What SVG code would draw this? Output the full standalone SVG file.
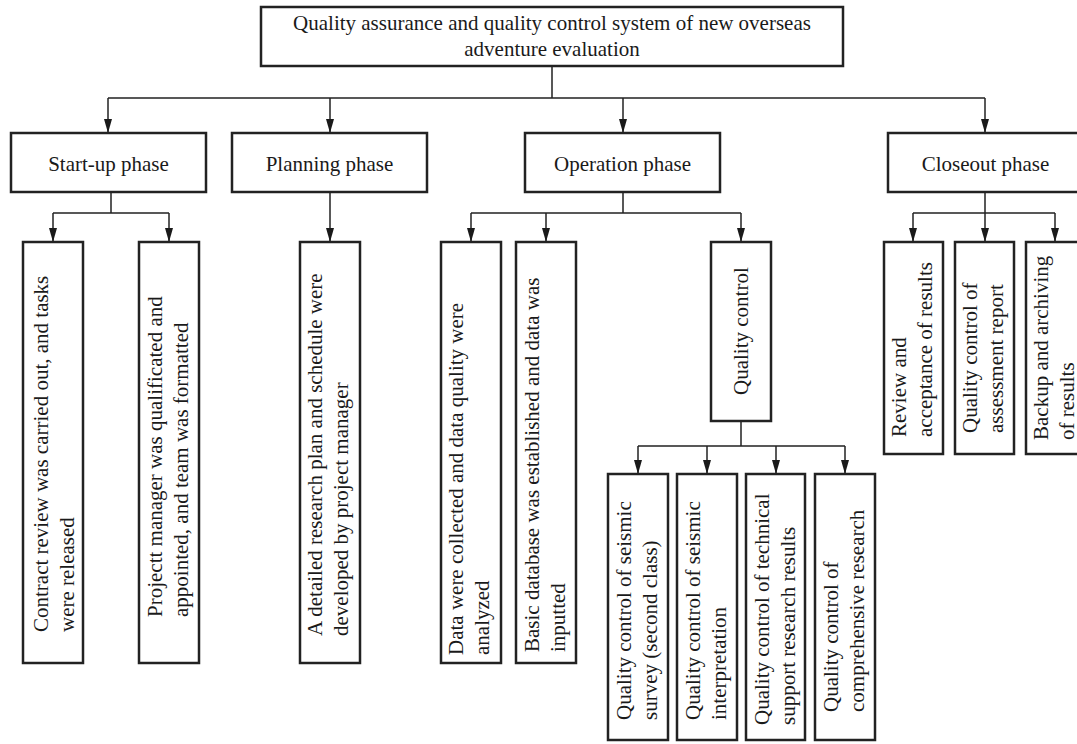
<svg xmlns="http://www.w3.org/2000/svg" width="1077" height="744" viewBox="0 0 1077 744">
<style>
.box{fill:#fff;stroke:#222;stroke-width:2.5}
.t{font-family:"Liberation Serif","Times New Roman",serif;font-size:21px;fill:#1a1a1a}
.c{text-anchor:middle}
.ln{fill:none;stroke:#222;stroke-width:1.5}
</style>
<defs>
<marker id="ah" viewBox="0 0 14 8" refX="14" refY="4" markerWidth="14" markerHeight="8" markerUnits="userSpaceOnUse" orient="auto">
<path d="M0,0 L14,4 L0,8 z" fill="#1a1a1a"/>
</marker>
</defs>
<rect width="1077" height="744" fill="#fff"/>
<g id="connectors">
<path class="ln" d="M552,66 V98 M108,98 H985"/>
<path class="ln" d="M108,98 V133" marker-end="url(#ah)"/>
<path class="ln" d="M330,98 V133" marker-end="url(#ah)"/>
<path class="ln" d="M623,98 V133" marker-end="url(#ah)"/>
<path class="ln" d="M985,98 V133" marker-end="url(#ah)"/>
<path class="ln" d="M111,192 V213 M53,213 H169"/>
<path class="ln" d="M53,213 V242" marker-end="url(#ah)"/>
<path class="ln" d="M169,213 V242" marker-end="url(#ah)"/>
<path class="ln" d="M330,192 V242" marker-end="url(#ah)"/>
<path class="ln" d="M623,192 V213 M471,213 H741"/>
<path class="ln" d="M471,213 V242" marker-end="url(#ah)"/>
<path class="ln" d="M546,213 V242" marker-end="url(#ah)"/>
<path class="ln" d="M741,213 V242" marker-end="url(#ah)"/>
<path class="ln" d="M741,421 V446 M638,446 H845"/>
<path class="ln" d="M638,446 V474" marker-end="url(#ah)"/>
<path class="ln" d="M707,446 V474" marker-end="url(#ah)"/>
<path class="ln" d="M776,446 V474" marker-end="url(#ah)"/>
<path class="ln" d="M845,446 V474" marker-end="url(#ah)"/>
<path class="ln" d="M985,192 V213 M913,213 H1055"/>
<path class="ln" d="M913,213 V242" marker-end="url(#ah)"/>
<path class="ln" d="M985,213 V242" marker-end="url(#ah)"/>
<path class="ln" d="M1055,213 V242" marker-end="url(#ah)"/>
</g>
<g id="root">
<rect class="box" x="261" y="7" width="582" height="59"/>
<text class="t c" x="552" y="30">Quality assurance and quality control system of new overseas</text>
<text class="t c" x="552" y="56">adventure evaluation</text>
</g>
<g id="startup">
<rect class="box" x="11" y="133" width="195" height="59"/>
<text class="t c" x="108.5" y="171">Start-up phase</text>
</g>
<g id="planning">
<rect class="box" x="232" y="133" width="195" height="59"/>
<text class="t c" x="329.5" y="171">Planning phase</text>
</g>
<g id="operation">
<rect class="box" x="525" y="133" width="195" height="59"/>
<text class="t c" x="622.5" y="171">Operation phase</text>
</g>
<g id="closeout">
<rect class="box" x="888" y="133" width="195" height="59"/>
<text class="t c" x="985.5" y="171">Closeout phase</text>
</g>
<g id="contract">
<rect class="box" x="23" y="242" width="60" height="421"/>
<text class="t" transform="translate(48,632) rotate(-90)"><tspan x="0" y="0">Contract review was carried out, and tasks</tspan><tspan x="0" y="26">were released</tspan></text>
</g>
<g id="pm">
<rect class="box" x="139" y="242" width="60" height="421"/>
<text class="t" transform="translate(162,617) rotate(-90)"><tspan x="0" y="0">Projectt manager was qualificated and</tspan><tspan x="0" y="26">appointed, and team was formatted</tspan></text>
</g>
<g id="plan">
<rect class="box" x="300" y="242" width="60" height="421"/>
<text class="t" transform="translate(322,636) rotate(-90)"><tspan x="0" y="0">A detailed research plan and schedule were</tspan><tspan x="0" y="26">developed by project manager</tspan></text>
</g>
<g id="data">
<rect class="box" x="441" y="242" width="60" height="421"/>
<text class="t" transform="translate(463,655) rotate(-90)"><tspan x="0" y="0">Data were collected and data quality were</tspan><tspan x="0" y="26">analyzed</tspan></text>
</g>
<g id="basic">
<rect class="box" x="516" y="242" width="60" height="421"/>
<text class="t" transform="translate(539,652) rotate(-90)"><tspan x="0" y="0">Basic database was established and data was</tspan><tspan x="0" y="26">inputted</tspan></text>
</g>
<g id="qc">
<rect class="box" x="711" y="242" width="60" height="179"/>
<text class="t" transform="translate(748,395) rotate(-90)">Quality control</text>
</g>
<g id="qc1">
<rect class="box" x="608" y="474" width="60" height="266"/>
<text class="t" transform="translate(631,720) rotate(-90)"><tspan x="0" y="0">Quality control of seismic</tspan><tspan x="0" y="26">survey (second class)</tspan></text>
</g>
<g id="qc2">
<rect class="box" x="677" y="474" width="60" height="266"/>
<text class="t" transform="translate(700,720) rotate(-90)"><tspan x="0" y="0">Quality control of seismic</tspan><tspan x="0" y="26">interpretation</tspan></text>
</g>
<g id="qc3">
<rect class="box" x="746" y="474" width="59" height="266"/>
<text class="t" transform="translate(769,725) rotate(-90)"><tspan x="0" y="0">Quality control of technical</tspan><tspan x="0" y="26">support research results</tspan></text>
</g>
<g id="qc4">
<rect class="box" x="815" y="474" width="60" height="266"/>
<text class="t" transform="translate(838,712) rotate(-90)"><tspan x="0" y="0">Quality control of</tspan><tspan x="0" y="26">comprehensive research</tspan></text>
</g>
<g id="review">
<rect class="box" x="884" y="242" width="59" height="212"/>
<text class="t" transform="translate(906,437) rotate(-90)"><tspan x="0" y="0">Review and</tspan><tspan x="0" y="26">acceptance of results</tspan></text>
</g>
<g id="report">
<rect class="box" x="955" y="242" width="59" height="212"/>
<text class="t" transform="translate(977,433) rotate(-90)"><tspan x="0" y="0">Quality control of</tspan><tspan x="0" y="26">assessment report</tspan></text>
</g>
<g id="backup">
<rect class="box" x="1026" y="242" width="59" height="212"/>
<text class="t" transform="translate(1048,440) rotate(-90)"><tspan x="0" y="0">Backup and archiving</tspan><tspan x="0" y="26">of results</tspan></text>
</g>
</svg>
